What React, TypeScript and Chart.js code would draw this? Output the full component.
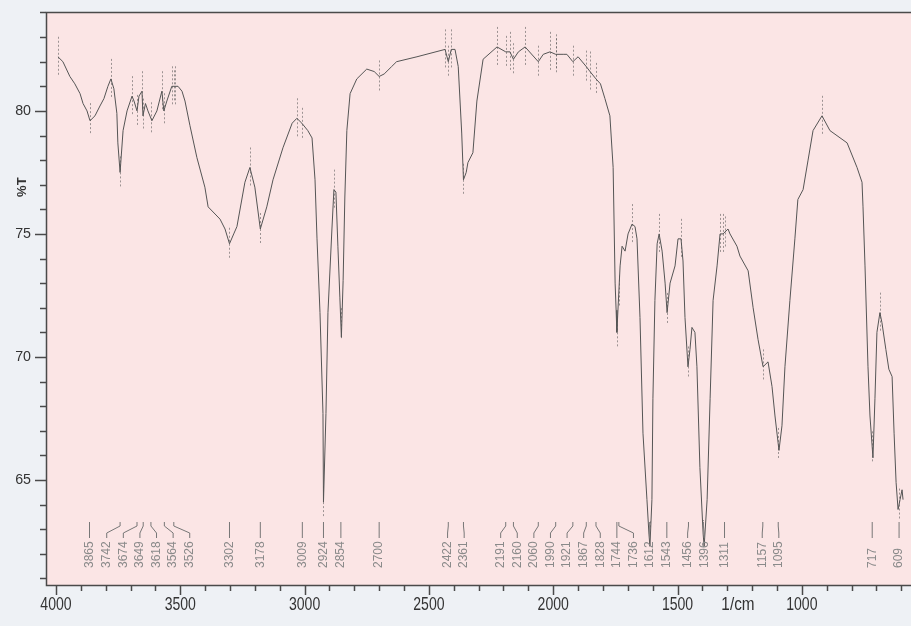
import { useEffect, useRef } from 'react';
import { Chart, registerables } from 'chart.js';

Chart.register(...registerables);

// ---- data ----
const wavenumbers = [
  3992, 3972, 3944, 3924, 3903, 3891, 3875, 3863, 3843, 3823, 3807, 3791, 3779, 3767, 3755, 3751,
  3742, 3730, 3714, 3694, 3686, 3674, 3666, 3654, 3650, 3640, 3630, 3614, 3594, 3574, 3566, 3554,
  3534, 3521, 3509, 3493, 3481, 3461, 3433, 3401, 3388, 3340, 3320, 3302, 3285, 3272, 3240, 3220,
  3200, 3178, 3152, 3127, 3087, 3050, 3031, 3011, 2987, 2970, 2958, 2950, 2938, 2926, 2924, 2914,
  2906, 2890, 2882, 2874, 2866, 2858, 2852, 2845, 2838, 2830, 2817, 2790, 2750, 2720, 2700, 2680,
  2650, 2630, 2548, 2435, 2422, 2410, 2395, 2382, 2368, 2361, 2350, 2343, 2323, 2307, 2282, 2226,
  2191, 2174, 2160, 2140, 2113, 2060, 2040, 2013, 1990, 1960, 1945, 1921, 1900, 1867, 1852, 1828,
  1810, 1792, 1772, 1759, 1751, 1747, 1744, 1731, 1723, 1711, 1699, 1683, 1671, 1663, 1651, 1639,
  1623, 1615, 1611, 1603, 1599, 1591, 1582, 1574, 1562, 1550, 1542, 1530, 1510, 1498, 1486, 1478,
  1470, 1458, 1450, 1442, 1430, 1422, 1410, 1397, 1393, 1381, 1369, 1357, 1341, 1329, 1317, 1297,
  1289, 1261, 1249, 1216, 1196, 1176, 1156, 1136, 1120, 1108, 1092, 1080, 1068, 1048, 1028, 1016,
  995, 975, 955, 919, 887, 818, 778, 758, 754, 746, 734, 726, 714, 706, 698, 686,
  678, 662, 650, 637, 629, 621, 613, 605, 597, 593,
];

const transmittance = [
  82.2, 82.0, 81.4, 81.1, 80.7, 80.3, 80.0, 79.6, 79.8, 80.2, 80.5, 81.0, 81.3, 80.9, 79.9, 78.7,
  77.5, 79.2, 80.0, 80.6, 80.4, 80.0, 80.6, 80.8, 79.8, 80.3, 80.0, 79.6, 80.0, 80.8, 80.0, 80.4,
  81.0, 81.0, 81.0, 80.8, 80.4, 79.4, 78.1, 76.9, 76.1, 75.6, 75.2, 74.6, 75.0, 75.3, 77.1, 77.7,
  76.9, 75.2, 76.1, 77.2, 78.5, 79.5, 79.7, 79.5, 79.2, 78.9, 77.2, 74.8, 71.8, 67.7, 64.1, 67.7,
  71.8, 75.2, 76.8, 76.7, 74.5, 72.4, 70.8, 73.1, 76.5, 79.2, 80.7, 81.3, 81.7, 81.6, 81.4, 81.5,
  81.8, 82.0, 82.2, 82.5, 82.0, 82.5, 82.5, 81.8, 79.1, 77.2, 77.5, 77.9, 78.3, 80.4, 82.1, 82.6,
  82.4, 82.4, 82.1, 82.4, 82.6, 82.0, 82.3, 82.4, 82.3, 82.3, 82.3, 82.0, 82.2, 81.8, 81.6, 81.3,
  81.1, 80.5, 79.8, 77.7, 73.0, 71.9, 71.0, 73.7, 74.5, 74.3, 75.0, 75.4, 75.3, 74.8, 71.6, 66.9,
  64.2, 62.8, 62.3, 64.2, 68.3, 72.3, 74.6, 75.0, 74.3, 73.0, 71.8, 73.0, 73.7, 74.8, 74.8, 73.9,
  71.6, 69.6, 70.3, 71.2, 71.0, 69.6, 65.5, 62.8, 62.3, 64.2, 68.3, 72.3, 73.7, 75.0, 75.0, 75.2,
  75.0, 74.5, 74.1, 73.5, 72.0, 70.7, 69.6, 69.8, 68.8, 67.6, 66.2, 67.2, 69.6, 72.3, 74.8, 76.4,
  76.8, 78.0, 79.2, 79.8, 79.2, 78.7, 77.7, 77.1, 76.1, 73.7, 69.6, 67.6, 65.9, 68.3, 71.0, 71.8,
  71.4, 70.3, 69.5, 69.2, 66.9, 64.9, 63.8, 64.2, 64.6, 64.2,
];

// labelled absorption bands
const peakLabels = [
  3865, 3742, 3674, 3649, 3618, 3564, 3526, 3302, 3178, 3009, 2924, 2854, 2700, 2422, 2361,
  2191, 2160, 2060, 1990, 1921, 1867, 1828, 1744, 1736, 1612, 1543, 1456, 1396, 1311, 1157,
  1095, 717, 609,
];

// unlabelled maxima carrying a peak-pick marker
const maximaMarks = [
  3992, 3779, 3694, 3654, 3574, 3534, 3521, 3220, 3031, 2882, 2435, 2410, 2226, 2174, 2113,
  2013, 1990, 1852, 1683, 1574, 1486, 1329, 1317, 919, 686,
];

const xLabelValues = [4000, 3500, 3000, 2500, 2000, 1500, 1000];
const yLabelValues = [80, 75, 70, 65];
const unitLabel = '1/cm';
const unitLabelPosition = 1257;
const yTitle = '%T';

const X_MIN = 561;
const X_MAX = 4040;
const Y_MIN = 60.73;
const Y_MAX = 84.02;

const OUTER_BG = '#eef1f5';
const PLOT_BG = '#fbe5e5';
const FRAME = '#4a4a4a';
const LABEL_FONT = '"Liberation Sans", Arial, sans-serif';

function curveAt(w: number): number {
  for (let i = 0; i < wavenumbers.length - 1; i++) {
    const a = wavenumbers[i];
    const b = wavenumbers[i + 1];
    if (w <= a && w >= b) {
      const t = a === b ? 0 : (a - w) / (a - b);
      return transmittance[i] + t * (transmittance[i + 1] - transmittance[i]);
    }
  }
  return transmittance[transmittance.length - 1];
}

function squeezedText(ctx: any, text: string, x: number, y: number, sx: number, align: string) {
  ctx.save();
  ctx.translate(x, y);
  ctx.scale(sx, 1);
  ctx.textAlign = align;
  ctx.fillText(text, 0, 0);
  ctx.restore();
}

const decorPlugin = {
  id: 'irDecor',
  beforeDraw(chart: any) {
    const { ctx, chartArea: a, width, height } = chart;
    ctx.save();
    ctx.fillStyle = OUTER_BG;
    ctx.fillRect(0, 0, width, height);
    ctx.fillStyle = PLOT_BG;
    ctx.fillRect(a.left, a.top, a.right - a.left, a.bottom - a.top);
    ctx.restore();
  },
  beforeDatasetsDraw(chart: any) {
    const { ctx } = chart;
    const xs = chart.scales.x;
    const ys = chart.scales.y;
    ctx.save();
    ctx.strokeStyle = 'rgba(80,80,80,0.55)';
    ctx.lineWidth = 1;
    ctx.setLineDash([2, 2]);
    maximaMarks.forEach((w) => {
      const px = Math.round(xs.getPixelForValue(w)) + 0.5;
      const py = ys.getPixelForValue(curveAt(w));
      ctx.beginPath();
      ctx.moveTo(px, py - 20);
      ctx.lineTo(px, py + 18);
      ctx.stroke();
    });
    peakLabels.forEach((w) => {
      const px = Math.round(xs.getPixelForValue(w)) + 0.5;
      const py = ys.getPixelForValue(curveAt(w));
      ctx.beginPath();
      ctx.moveTo(px, py - 16);
      ctx.lineTo(px, Math.min(py + 14, chart.chartArea.bottom - 65));
      ctx.stroke();
    });
    ctx.restore();
  },
  afterDraw(chart: any) {
    const { ctx, chartArea: a } = chart;
    const xs = chart.scales.x;
    const ys = chart.scales.y;
    ctx.save();
    // frame
    ctx.strokeStyle = FRAME;
    ctx.lineWidth = 1.5;
    ctx.beginPath();
    ctx.moveTo(a.right, a.top + 0.5);
    ctx.lineTo(a.left + 0.5, a.top + 0.5);
    ctx.lineTo(a.left + 0.5, a.bottom + 0.5);
    ctx.lineTo(a.right, a.bottom + 0.5);
    ctx.stroke();

    // x ticks (every 100, longer every 500)
    for (let v = 4000; v >= 600; v -= 100) {
      const px = Math.round(xs.getPixelForValue(v)) + 0.5;
      const len = v % 500 === 0 ? 10 : 6;
      ctx.beginPath();
      ctx.moveTo(px, a.bottom);
      ctx.lineTo(px, a.bottom + len);
      ctx.stroke();
    }
    // y ticks (every 1, longer every 5)
    for (let v = Math.ceil(Y_MIN); v <= Math.floor(Y_MAX); v += 1) {
      const py = Math.round(ys.getPixelForValue(v)) + 0.5;
      const len = v % 5 === 0 ? 11 : 6;
      ctx.beginPath();
      ctx.moveTo(a.left, py);
      ctx.lineTo(a.left - len, py);
      ctx.stroke();
    }

    // tick labels (condensed like the original print)
    ctx.fillStyle = '#333';
    ctx.textBaseline = 'middle';
    ctx.font = `18px ${LABEL_FONT}`;
    xLabelValues.forEach((v) => {
      squeezedText(ctx, String(v), xs.getPixelForValue(v), a.bottom + 20, 0.78, 'center');
    });
    squeezedText(ctx, unitLabel, xs.getPixelForValue(unitLabelPosition), a.bottom + 20, 0.85, 'center');
    ctx.font = `15px ${LABEL_FONT}`;
    yLabelValues.forEach((v) => {
      squeezedText(ctx, String(v), a.left - 15, ys.getPixelForValue(v), 0.95, 'right');
    });

    // y title
    ctx.save();
    ctx.translate(22, ys.getPixelForValue(76.9));
    ctx.rotate(-Math.PI / 2);
    ctx.font = `bold 13px ${LABEL_FONT}`;
    ctx.textAlign = 'center';
    ctx.textBaseline = 'middle';
    ctx.fillText(yTitle, 0, 0);
    ctx.restore();

    // peak labels with spread layout
    const spacing = 16.6;
    const pxs = peakLabels.map((p) => xs.getPixelForValue(p));
    type Cl = { idx: number[]; sum: number };
    const clusters: Cl[] = [];
    const first = (c: Cl) => c.sum / c.idx.length - ((c.idx.length - 1) * spacing) / 2;
    const last = (c: Cl) => c.sum / c.idx.length + ((c.idx.length - 1) * spacing) / 2;
    pxs.forEach((p, i) => {
      clusters.push({ idx: [i], sum: p });
      while (clusters.length > 1) {
        const cur = clusters[clusters.length - 1];
        const prev = clusters[clusters.length - 2];
        if (last(prev) + spacing > first(cur) + 0.01) {
          prev.idx.push(...cur.idx);
          prev.sum += cur.sum;
          clusters.pop();
        } else break;
      }
    });
    const lx: number[] = new Array(pxs.length);
    clusters.forEach((c) => {
      const f = first(c);
      c.idx.forEach((id, k) => (lx[id] = f + k * spacing));
    });

    const lineTop = a.bottom - 63;
    ctx.strokeStyle = '#777';
    ctx.lineWidth = 1;
    ctx.fillStyle = '#8a8a8a';
    ctx.font = `12px ${LABEL_FONT}`;
    peakLabels.forEach((p, i) => {
      const px = pxs[i];
      const x = lx[i];
      ctx.beginPath();
      if (Math.abs(px - x) < 0.5) {
        ctx.moveTo(px, lineTop);
        ctx.lineTo(px, lineTop + 16);
      } else {
        ctx.moveTo(px, lineTop);
        ctx.lineTo(px, lineTop + 4);
        ctx.lineTo(x, lineTop + 11);
        ctx.lineTo(x, lineTop + 16);
      }
      ctx.stroke();
      ctx.save();
      ctx.translate(x, a.bottom - 17);
      ctx.rotate(-Math.PI / 2);
      ctx.textAlign = 'left';
      ctx.textBaseline = 'middle';
      ctx.fillText(String(p), 0, 0);
      ctx.restore();
    });
    ctx.restore();
  },
};

export default function App() {
  const ref = useRef<HTMLCanvasElement | null>(null);
  useEffect(() => {
    document.body.style.margin = '0';
    if (!ref.current) return;
    const chart = new Chart(ref.current, {
      type: 'line',
      data: {
        datasets: [
          {
            data: wavenumbers.map((x, i) => ({ x, y: transmittance[i] })),
            borderColor: '#555',
            borderWidth: 1,
            pointRadius: 0,
            tension: 0,
            fill: false,
          },
        ],
      },
      options: {
        animation: false,
        responsive: false,
        maintainAspectRatio: false,
        layout: { padding: { top: 12, left: 0, right: 0, bottom: 0 } },
        plugins: { legend: { display: false }, tooltip: { enabled: false } },
        scales: {
          x: {
            type: 'linear',
            reverse: true,
            min: X_MIN,
            max: X_MAX,
            grid: { display: false, drawTicks: false },
            border: { display: false },
            ticks: { display: false },
            afterFit: (s: any) => {
              s.height = 41;
              s.paddingLeft = 0;
              s.paddingRight = 0;
              s.paddingTop = 0;
              s.paddingBottom = 0;
            },
          },
          y: {
            min: Y_MIN,
            max: Y_MAX,
            grid: { display: false, drawTicks: false },
            border: { display: false },
            ticks: { display: false },
            afterFit: (s: any) => {
              s.width = 46;
              s.paddingLeft = 0;
              s.paddingRight = 0;
              s.paddingTop = 0;
              s.paddingBottom = 0;
            },
          },
        },
      },
      plugins: [decorPlugin],
    });
    return () => chart.destroy();
  }, []);
  return (
    <div style={{ width: 911, height: 626 }}>
      <canvas ref={ref} width={911} height={626} style={{ display: 'block' }} />
    </div>
  );
}
